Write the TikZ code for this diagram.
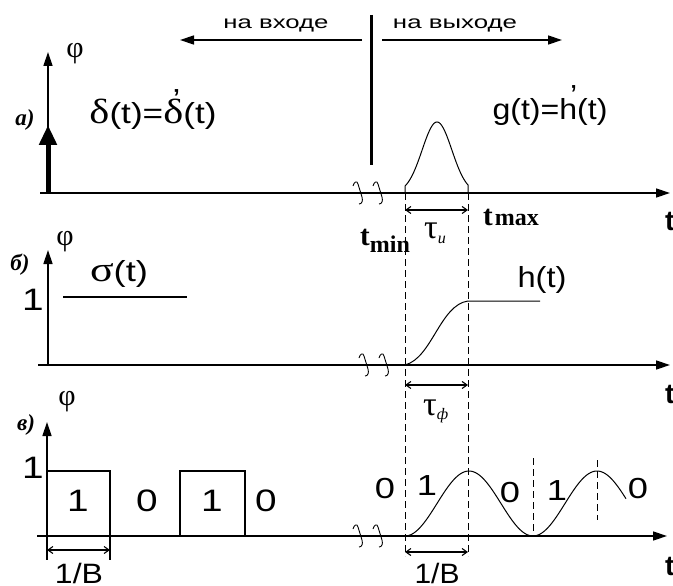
\documentclass[tikz,border=0pt]{standalone}
\usepackage{fontspec}
\setmainfont{Liberation Sans}
\newfontfamily\grk{Liberation Serif}
\usepackage{graphicx}
\usetikzlibrary{arrows.meta}
\newcommand\fs[1]{\fontsize{#1}{#1}\selectfont}
\newcommand\wbox[2]{\resizebox{#1}{\height}{#2}}
\newcommand\wx[1]{\scalebox{1.25}[1]{#1}}
\begin{document}
\begin{tikzpicture}[x=1pt,y=-1pt,
  axis/.style={line width=1.4pt,-{Triangle[length=14pt,width=9pt]}},
  thickarrow/.style={line width=5pt,-{Triangle[length=20pt,width=17pt]}},
  dimarrow/.style={line width=1.1pt,{Straight Barb[length=5pt,width=7pt]}-{Straight Barb[length=5pt,width=7pt]}},
  guide/.style={line width=1pt,dash pattern=on 7pt off 4pt},
  curve/.style={line width=1pt},
  plain/.style={line width=1.3pt},
  lbl/.style={inner sep=0pt, anchor=base},
  lblw/.style={inner sep=0pt, anchor=base west},
  brk/.pic={\draw[line width=0.9pt] (-6,-7) .. controls (-5,-11) and (-2,-13) .. (-1,-9) -- (3,4) .. controls (4,8) and (3,11) .. (0,11);}
]
\useasboundingbox (0,0) rectangle (673,586);

% ---------- top: input / output ----------
\coordinate (inR) at (362,40);
\coordinate (inL) at (180,40);
\coordinate (outL) at (382,40);
\coordinate (outR) at (562,40);
\coordinate (barT) at (371,15);
\coordinate (barB) at (371,165);
\draw[axis] (inR) -- (inL);
\draw[axis] (outL) -- (outR);
\draw[line width=3pt] (barT) -- (barB);
\node[lbl] (inlab) at (276,29) {\wbox{105pt}{\fs{18}на входе}};
\node[lbl] (outlab) at (455,29) {\wbox{124pt}{\fs{18}на выходе}};

% ---------- panel a ----------
\coordinate (Oa) at (48,193);
\coordinate (Ya) at (48,52);
\coordinate (Xa0) at (40,193);
\coordinate (Xa) at (670,193);
\coordinate (Da) at (48,125);
\draw[axis] (Oa) -- (Ya);
\draw[axis] (Xa0) -- (Xa);
\draw[thickarrow] (Oa) -- (Da);
\node[lbl] (phia) at (75,58) {\grk\fs{30}φ};
\node[lbl] (la) at (25,125) {\grk\bfseries\itshape\fs{23}а)};
\node[lbl] (delta) at (153,124) {\wbox{127pt}{\fs{29}{\grk\fs{35}δ}(t)={\grk\fs{35}δ}\rlap{\raisebox{.5em}{\kern-.3em’}}(t)}};
\node[lbl] (gfun) at (550,120) {\wbox{115pt}{\fs{29}g(t)=h\rlap{\raisebox{.5em}{\kern-.22em’}}(t)}};
\draw[curve] (405,193) -- plot[domain=-32:31,samples=60] ({437+\x},{193-71*exp(-(\x/21)*(\x/21))}) -- (468,193);
\pic at (359,193) {brk};
\pic at (379,193) {brk};
\node[lblw] (tmin) at (360,245) {\grk\bfseries\fs{29}t\raisebox{-7pt}{\fs{24}min}};
\node[lblw] (tmax) at (483,225) {\grk\bfseries\fs{29}t\kern2pt{\fs{24}max}};
\node[lblw] (tauu) at (424,238) {\grk\fs{34}τ\raisebox{-5pt}{\itshape\fs{16}и}};
\node[lblw] (ta) at (665,230) {\bfseries\fs{28}t};

% dashed guides
\coordinate (g1t) at (405,193);
\coordinate (g1b) at (405,556);
\coordinate (g2t) at (468,193);
\coordinate (g2b) at (468,556);
\draw[guide] (g1t) -- (g1b);
\draw[guide] (g2t) -- (g2b);
\draw[dimarrow] (405,210) -- (468,210);

% ---------- panel b ----------
\coordinate (Ob) at (48,365);
\coordinate (Yb) at (48,250);
\coordinate (Xb0) at (38,365);
\coordinate (Xb) at (670,365);
\draw[axis] (Ob) -- (Yb);
\draw[axis] (Xb0) -- (Xb);
\node[lbl] (phib) at (65,245) {\grk\fs{30}φ};
\node[lbl] (lb) at (20,270) {\grk\bfseries\itshape\fs{23}б)};
\node[lbl] (oneb) at (33,310) {\wx{\fs{31}1}};
\node[lbl] (sigma) at (119,281) {\wbox{58pt}{\fs{29}{\grk\fs{35}σ}(t)}};
\draw[plain] (63,297) -- (187,297);
\draw[curve] (405,365) .. controls (432,358) and (440,305) .. (468,301) -- (540,301);
\node[lbl] (hfun) at (542,287) {\wbox{49pt}{\fs{29}h(t)}};
\pic at (365,365) {brk};
\pic at (385,365) {brk};
\draw[dimarrow] (405,385) -- (468,385);
\node[lblw] (tauf) at (423,415) {\grk\fs{34}τ\raisebox{-4pt}{\itshape\fs{16}ф}};
\node[lblw] (tb) at (665,403) {\bfseries\fs{28}t};

% ---------- panel v ----------
\coordinate (Oc) at (47,536);
\coordinate (Yc) at (47,422);
\coordinate (Xc0) at (37,536);
\coordinate (Xc) at (667,536);
\draw[axis] (Oc) -- (Yc);
\draw[axis] (Xc0) -- (Xc);
\node[lbl] (phic) at (67,405) {\grk\fs{30}φ};
\node[lbl] (lc) at (26,430) {\grk\bfseries\itshape\fs{23}в)};
\node[lbl] (onec) at (33,478) {\wx{\fs{31}1}};
\draw[plain] (47,536) |- (110,471) -- (110,536);
\draw[plain] (180,536) |- (245,471) -- (245,536);
\node[lbl] at (78,511) {\wx{\fs{31}1}};
\node[lbl] at (147,511) {\wx{\fs{31}0}};
\node[lbl] at (212,511) {\wx{\fs{31}1}};
\node[lbl] at (266,511) {\wx{\fs{31}0}};
\draw[plain] (47,536) -- (47,560);
\draw[plain] (110,536) -- (110,560);
\draw[dimarrow] (47,550) -- (110,550);
\node[lbl] at (79,583) {\wbox{48pt}{\fs{28}1/B}};

\draw[curve] plot[domain=0:221,samples=120] ({405+\x},{536-32.5*(1-cos(2.8125*\x))});
\draw[guide] (533,458) -- (533,536);
\draw[guide] (597,460) -- (597,520);
\pic at (359,536) {brk};
\pic at (379,536) {brk};
\node[lbl] at (385,498) {\wx{\fs{29}0}};
\node[lbl] at (427,495) {\wx{\fs{29}1}};
\node[lbl] at (510,502) {\wx{\fs{29}0}};
\node[lbl] at (557,500) {\wx{\fs{29}1}};
\node[lbl] at (638,498) {\wx{\fs{29}0}};
\draw[dimarrow] (405,552) -- (468,552);
\node[lbl] at (437,583) {\wbox{45pt}{\fs{28}1/B}};
\node[lblw] (tc) at (665,575) {\bfseries\fs{28}t};
\end{tikzpicture}
\end{document}
